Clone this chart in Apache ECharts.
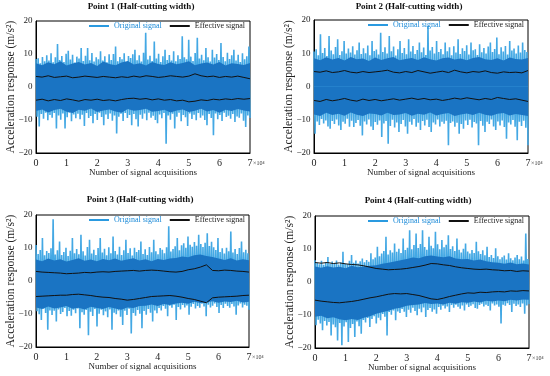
<!DOCTYPE html>
<html><head><meta charset="utf-8">
<script src="https://cdn.jsdelivr.net/npm/echarts@6/dist/echarts.min.js"></script>
<style>html,body{margin:0;padding:0;background:#fff}#c{width:550px;height:376px}</style>
</head><body><div id="c"></div>
<script>
// ---------- DATA ----------
const titles = ['Point 1 (Half-cutting width)','Point 2 (Half-cutting width)','Point 3 (Half-cutting width)','Point 4 (Half-cutting width)'];
const xTickLabels = ['0','1','2','3','4','5','6','7'];
const yTickLabels = ['−20','−10','0','10','20'];
const xMax = 70000;

// Original signal: upper / lower peaks per acquisition bin (100 bins over 0..7e4)
const p1Hi = [8.5,8.7,7.2,9.1,7.8,9.6,8.0,10.2,7.5,9.0, 13.0,8.2,9.4,7.6,10.1,11.0,8.3,9.8,7.4,9.2, 8.6,11.8,7.9,9.5,11.8,8.1,10.3,7.7,9.0,8.4, 10.8,8.0,9.3,7.5,9.9,8.2,10.0,12.3,7.8,9.1, 8.4,10.2,7.6,9.4,8.8,9.9,11.3,8.1,9.6,7.7, 10.4,16.4,8.3,9.5,7.9,13.8,8.6,10.1,7.6,9.3, 11.3,8.2,9.7,8.0,10.8,7.8,9.6,8.5,15.4,9.0, 8.4,14.3,9.2,7.9,10.3,14.9,8.6,9.8,8.1,11.8, 9.0,7.7,11.3,8.9,10.0,8.2,13.3,9.1,7.8,10.4, 8.5,9.6,11.3,8.0,9.8,7.6,10.2,8.4,9.3,12.3];
const p1Lo = [-9.0,-12.0,-8.2,-9.6,-7.8,-10.1,-8.5,-9.3,-7.9,-12.6, -8.6,-9.9,-8.0,-12.6,-9.2,-7.7,-10.4,-8.3,-9.5,-8.1, -9.8,-8.4,-11.8,-7.9,-9.4,-8.8,-11.0,-8.2,-10.0,-7.8, -9.1,-11.6,-8.3,-9.7,-8.0,-10.2,-8.6,-14.1,-9.0,-8.1, -10.3,-7.9,-9.4,-8.5,-11.6,-8.2,-9.8,-12.0,-8.4,-9.6, -8.0,-10.1,-7.8,-9.3,-8.7,-10.0,-11.0,-8.3,-9.5,-7.9, -17.2,-8.6,-9.9,-8.1,-12.6,-9.0,-7.8,-10.4,-8.5,-9.2, -11.8,-8.0,-9.7,-8.4,-10.1,-7.9,-9.3,-8.6,-10.0,-11.6, -8.2,-9.4,-14.6,-8.0,-9.8,-8.5,-10.3,-7.8,-9.1,-8.7, -9.6,-8.2,-10.6,-8.9,-9.3,-8.0,-10.2,-12.1,-8.6,-9.4];

const p2Hi = [10.5,11.2,9.4,15.7,10.1,11.6,9.2,15.2,10.8,9.7, 11.9,14.2,9.5,10.6,13.7,9.9,11.4,10.2,12.1,9.6, 10.9,13.2,9.8,11.5,10.0,12.3,9.4,13.7,10.7,11.1, 9.6,16.2,10.4,11.8,9.9,15.2,10.6,12.0,9.3,11.2, 13.7,10.1,11.6,9.7,14.2,10.5,12.2,9.8,11.0,13.2, 10.3,11.7,9.5,18.3,10.8,11.9,9.9,13.7,10.4,11.3, 9.7,13.2,10.6,11.8,9.4,12.1,10.2,14.2,9.8,11.5, 10.7,12.4,9.6,13.2,10.9,11.2,9.5,12.7,10.3,11.6, 9.9,12.0,13.2,10.4,11.3,14.7,9.7,11.8,10.5,12.2, 9.6,13.7,10.8,11.4,9.9,12.3,10.2,13.2,11.0,10.4];
const p2Lo = [-14.2,-10.5,-11.6,-9.8,-11.1,-10.2,-12.0,-12.7,-10.4,-11.3, -9.9,-11.7,-13.1,-10.6,-11.2,-9.7,-12.1,-10.3,-12.2,-11.0, -10.1,-11.8,-14.7,-10.5,-11.4,-9.9,-12.0,-13.1,-10.7,-11.5, -10.2,-15.2,-11.1,-10.4,-17.2,-11.9,-10.0,-12.3,-10.8,-13.7, -11.3,-10.1,-12.0,-14.2,-10.6,-11.5,-9.8,-12.1,-10.9,-13.1, -10.4,-11.7,-10.0,-12.2,-13.7,-10.8,-11.4,-9.9,-12.0,-10.6, -11.2,-10.3,-17.7,-11.0,-10.5,-12.1,-10.9,-14.2,-11.3,-12.7, -10.2,-11.6,-10.0,-12.3,-10.7,-11.1,-17.7,-10.4,-11.8,-13.7, -10.6,-11.3,-9.9,-12.0,-13.1,-10.5,-11.7,-10.2,-12.2,-15.7, -10.8,-11.4,-10.1,-12.1,-16.2,-10.6,-11.9,-10.3,-12.4,-17.7];

const p3Hi = [10.9,8.2,9.4,13.0,7.8,9.1,8.5,9.9,18.7,8.0, 9.3,12.0,7.9,8.8,10.1,7.6,9.2,13.0,8.4,9.7, 8.1,14.0,9.0,7.7,10.3,12.5,8.3,9.5,7.9,10.0, 13.0,8.6,9.8,7.8,10.2,8.4,13.5,9.1,8.0,10.4, 7.9,9.3,12.5,8.5,9.9,7.7,10.1,8.8,9.4,12.0, 8.2,9.6,7.9,10.3,8.7,12.5,9.0,8.1,10.0,9.5, 8.4,10.2,16.6,8.9,9.7,10.5,13.0,9.3,10.8,11.4, 10.1,13.5,11.0,10.4,11.8,10.7,14.0,11.2,10.3,11.6, 14.5,10.6,11.9,10.2,9.4,13.0,8.8,9.9,8.3,10.1, 9.0,15.0,8.6,9.7,8.2,10.0,12.0,8.7,9.5,8.4];
const p3Lo = [-9.2,-10.1,-11.8,-8.4,-9.7,-14.8,-8.9,-10.3,-9.0,-12.3, -8.6,-10.0,-9.4,-8.2,-10.7,-9.1,-10.5,-8.7,-9.8,-8.3, -14.3,-9.5,-10.2,-8.8,-16.4,-9.3,-10.6,-8.5,-13.8,-9.9, -8.7,-10.4,-9.2,-11.0,-8.6,-14.8,-9.6,-10.1,-8.9,-10.8, -13.3,-9.0,-10.3,-8.4,-15.9,-9.7,-10.5,-8.8,-9.9,-14.3, -9.1,-10.2,-8.5,-9.6,-12.3,-8.9,-9.8,-8.2,-8.9,-7.6, -8.4,-10.7,-7.5,-8.1,-7.2,-11.8,-7.9,-8.6,-7.3,-8.0, -7.4,-10.2,-7.8,-7.0,-8.3,-7.6,-8.1,-6.9,-7.7,-10.7, -7.2,-8.0,-7.5,-6.8,-7.9,-9.7,-7.3,-8.2,-6.9,-7.6, -8.1,-7.0,-7.7,-10.2,-7.4,-6.8,-8.0,-7.2,-7.5,-8.7];

const p4Hi = [6.6,5.8,5.4,6.4,5.2,6.0,7.6,5.5,6.2,5.6, 6.5,5.3,5.9,9.2,5.7,5.4,6.4,8.2,5.8,6.5, 5.6,6.3,7.1,6.0,6.7,6.1,8.7,6.9,7.4,10.7, 7.8,8.6,9.4,13.7,8.3,9.6,8.9,11.7,9.2,10.1, 8.8,13.2,9.7,10.4,15.7,9.9,11.2,14.7,10.3,11.5, 15.7,10.6,9.8,13.7,11.0,10.2,15.2,11.4,9.9,12.7, 10.5,11.3,14.2,10.0,10.8,9.4,13.2,9.8,8.9,10.1, 11.7,9.2,8.6,9.7,8.8,12.2,9.3,8.5,9.6,8.1, 10.7,7.6,8.2,7.3,10.2,7.8,6.9,7.5,8.0,6.8, 8.7,7.2,6.6,7.4,8.2,6.9,7.7,6.5,14.7,7.0];
const p4Lo = [-13.1,-11.4,-12.6,-14.6,-11.8,-13.2,-12.1,-16.2,-12.9,-13.7, -17.7,-12.4,-19.2,-13.5,-12.2,-18.2,-13.9,-12.7,-16.7,-12.0, -13.4,-15.7,-11.5,-12.3,-10.9,-13.6,-11.2,-10.4,-12.6,-10.8, -11.6,-9.7,-10.5,-16.2,-9.1,-9.9,-8.6,-11.6,-8.9,-9.4, -8.2,-9.0,-10.6,-8.4,-9.3,-7.8,-8.8,-10.1,-8.1,-9.2, -7.7,-10.6,-8.5,-7.9,-9.0,-8.3,-9.6,-7.6,-8.4,-7.2, -8.0,-7.4,-9.1,-7.0,-7.8,-6.9,-7.5,-8.1,-7.1,-8.6, -6.8,-7.6,-7.2,-6.7,-7.9,-8.1,-7.0,-6.6,-7.4,-6.9, -7.3,-8.6,-6.5,-7.1,-6.8,-7.5,-12.6,-6.9,-7.2,-6.4, -7.0,-9.1,-6.6,-7.3,-6.8,-7.6,-6.5,-9.6,-7.1,-6.7];

// dense core of the original signal (every 0.2e4)
const p1CoreHi = [7.2,6.6,7.5,6.9,7.8,6.5,7.1,7.6,6.8,7.3,6.4,7.7,7.0,6.6,7.4,7.9,6.8,7.2,6.5,7.6,7.0,6.7,7.5,6.9,7.3,7.8,6.6,7.1,7.4,6.8,7.6,6.5,7.2,7.0,6.7,7.3];
const p1CoreLo = [-7.3,-6.8,-7.7,-7.0,-6.6,-7.5,-7.9,-6.9,-7.2,-6.5,-7.6,-7.1,-6.8,-7.4,-7.8,-6.7,-7.2,-7.0,-6.6,-7.5,-7.3,-6.9,-7.7,-7.1,-6.8,-7.6,-7.2,-6.6,-7.4,-7.0,-7.8,-6.9,-7.3,-6.7,-7.1,-7.4];
const p2CoreHi = [8.5,7.9,8.8,8.1,8.6,7.8,8.9,8.2,8.4,7.7,8.7,8.0,8.5,8.9,7.9,8.3,8.6,8.0,8.8,8.2,7.8,8.5,8.7,8.1,8.4,7.9,8.6,8.9,8.2,8.0,8.5,7.8,8.7,8.3,8.1,8.6];
const p2CoreLo = [-8.4,-8.9,-7.9,-8.6,-8.2,-8.8,-7.8,-8.5,-8.9,-8.1,-8.3,-8.7,-7.9,-8.6,-8.4,-8.0,-8.8,-8.2,-8.5,-7.8,-8.7,-8.3,-8.0,-8.9,-8.4,-8.1,-8.6,-7.9,-8.5,-8.8,-8.2,-8.0,-8.7,-8.3,-8.6,-8.9];
const p3CoreHi = [6.5,6.0,6.8,6.2,6.6,5.9,6.4,6.9,6.1,6.5,6.0,6.7,6.3,6.8,6.1,6.5,6.9,6.2,6.6,6.0,6.7,6.4,6.8,7.0,7.4,7.2,7.8,8.0,7.6,7.3,6.8,6.4,6.9,6.2,6.6,6.3];
const p3CoreLo = [-8.0,-8.5,-7.7,-8.3,-8.0,-7.6,-8.4,-8.1,-8.6,-7.8,-8.2,-8.5,-7.9,-8.3,-8.7,-8.0,-8.2,-7.6,-7.5,-7.1,-7.6,-7.0,-7.3,-6.8,-6.6,-6.9,-6.3,-6.7,-6.5,-6.1,-6.6,-6.2,-6.4,-6.0,-6.5,-6.3];
const p4CoreHi = [4.7,4.3,4.8,4.4,4.6,4.2,4.9,4.5,4.7,4.9,5.1,5.5,5.8,6.2,6.6,7.0,7.4,7.2,7.8,8.0,7.7,7.5,7.8,7.1,6.9,7.0,6.5,6.8,6.3,6.0,5.8,5.5,5.9,5.4,5.6,5.3];
const p4CoreLo = [-10.5,-10.2,-11.0,-10.7,-11.3,-11.6,-11.2,-11.5,-10.8,-10.4,-9.6,-9.2,-8.7,-8.1,-7.8,-7.2,-7.0,-6.8,-6.4,-6.7,-6.5,-6.8,-6.3,-6.6,-6.1,-6.3,-5.9,-6.2,-5.7,-5.9,-5.6,-5.8,-5.4,-5.6,-5.3,-5.4];

// Effective signal: upper / lower envelopes (every 0.2e4)
const p1EnvUp = [3.2,3.0,3.4,2.9,3.1,3.3,2.8,3.0,3.3,3.1,2.9,3.2,3.0,2.8,3.1,2.9,3.3,3.0,3.4,3.2,2.9,3.1,3.4,3.2,3.0,3.3,4.0,3.4,3.1,3.3,2.9,3.2,3.0,3.3,2.9,2.5];
const p1EnvLo = [-4.0,-3.7,-4.2,-3.8,-4.1,-3.6,-3.9,-4.3,-3.8,-4.0,-3.7,-4.1,-3.9,-4.2,-3.8,-3.5,-3.4,-3.7,-3.5,-3.9,-3.6,-4.0,-3.8,-4.2,-4.0,-4.5,-4.3,-3.9,-4.1,-3.7,-3.9,-3.6,-3.8,-3.5,-3.7,-3.5];
const p2EnvUp = [4.5,4.3,4.7,4.2,4.4,4.8,4.3,4.1,4.5,4.2,4.4,4.6,4.9,4.3,4.1,4.5,4.2,4.8,4.4,4.0,4.3,4.6,4.2,4.9,4.4,4.1,4.5,4.3,4.7,4.2,4.0,4.4,4.2,4.3,4.1,4.8];
const p2EnvLo = [-4.2,-4.5,-3.9,-4.3,-4.0,-3.6,-4.1,-4.4,-3.8,-4.2,-3.9,-4.3,-4.0,-3.7,-4.1,-3.8,-3.5,-3.9,-3.6,-4.0,-3.8,-4.2,-3.9,-3.5,-3.8,-3.4,-3.7,-4.0,-3.6,-3.9,-3.3,-3.6,-3.9,-3.7,-4.1,-4.5];
const p3EnvUp = [2.9,2.7,2.6,2.5,2.4,2.2,2.3,2.4,2.6,2.5,2.7,2.8,2.7,2.9,3.0,3.1,3.2,3.0,3.2,3.3,3.2,3.0,2.8,2.7,2.9,3.4,3.7,4.2,4.9,3.2,3.1,3.3,3.2,3.0,2.9,2.7];
const p3EnvLo = [-4.7,-4.6,-4.5,-4.4,-4.3,-4.3,-4.1,-4.0,-4.2,-4.4,-4.7,-4.9,-5.0,-5.3,-5.5,-5.8,-5.6,-5.3,-5.0,-4.7,-4.6,-4.5,-4.4,-4.6,-4.9,-5.3,-5.6,-6.1,-6.6,-5.1,-4.9,-4.8,-4.7,-4.6,-4.4,-4.3];
const p4EnvUp = [5.9,5.7,5.9,5.6,5.8,5.5,5.3,5.2,4.9,4.5,4.1,3.9,3.7,3.8,3.9,4.1,4.4,4.7,5.1,5.6,5.5,5.2,5.0,4.6,4.3,4.1,3.9,3.8,3.9,3.7,3.6,3.4,3.5,3.2,3.4,3.3];
const p4EnvLo = [-5.5,-5.8,-6.0,-6.2,-6.3,-6.1,-5.9,-5.6,-5.2,-4.8,-4.5,-4.1,-3.7,-3.5,-3.6,-3.5,-3.8,-4.1,-4.6,-5.1,-5.3,-4.9,-4.4,-4.0,-3.6,-3.3,-3.4,-3.1,-3.2,-3.0,-2.9,-3.0,-2.7,-2.8,-2.6,-2.7];

// ---------- BUILD ----------
const FONT = '"Liberation Serif","Times New Roman",serif';
const BLUE_SPIKE = '#43a8e4', BLUE_CORE = '#1a74c3', BLACK = '#111';
const plots = [
  {hi:p1Hi, lo:p1Lo, cHi:p1CoreHi, cLo:p1CoreLo, eUp:p1EnvUp, eLo:p1EnvLo, grid:{left:36,top:21,width:214,height:132}, leg:{left:89,top:22}, title:[141,7]},
  {hi:p2Hi, lo:p2Lo, cHi:p2CoreHi, cLo:p2CoreLo, eUp:p2EnvUp, eLo:p2EnvLo, grid:{left:314,top:20,width:214,height:133}, leg:{left:368,top:21}, title:[409,7]},
  {hi:p3Hi, lo:p3Lo, cHi:p3CoreHi, cLo:p3CoreLo, eUp:p3EnvUp, eLo:p3EnvLo, grid:{left:36,top:215,width:213,height:132}, leg:{left:89,top:216}, title:[140,200]},
  {hi:p4Hi, lo:p4Lo, cHi:p4CoreHi, cLo:p4CoreLo, eUp:p4EnvUp, eLo:p4EnvLo, grid:{left:315,top:216,width:214,height:132}, leg:{left:368,top:217}, title:[418,201]}
];
function zigzag(hi, lo){
  const n = hi.length*2, out=[];
  for(let i=0;i<hi.length;i++){
    out.push([(2*i)*xMax/(n-1), hi[i]]);
    out.push([(2*i+1)*xMax/(n-1), lo[i]]);
  }
  return out;
}
function spread(arr){ return arr.map((v,k)=>[k*xMax/(arr.length-1), v]); }

const grids=[], xAxes=[], yAxes=[], series=[], legends=[], graphics=[];
plots.forEach((p,gi)=>{
  grids.push(Object.assign({show:true, borderColor:'#000', borderWidth:1, backgroundColor:'transparent'}, p.grid));
  xAxes.push({type:'value', gridIndex:gi, min:0, max:xMax, interval:10000,
    name:'Number of signal acquisitions', nameLocation:'middle', nameGap:15, nameMoveOverlap:false,
    nameTextStyle:{fontFamily:FONT, fontSize:9, color:'#222'},
    axisLine:{show:true, onZero:false, lineStyle:{color:'#000', width:1}},
    axisTick:{show:false}, splitLine:{show:false},
    axisLabel:{fontFamily:FONT, fontSize:10, color:'#222', margin:5,
      formatter:(v)=>xTickLabels[Math.round(v/10000)]}});
  yAxes.push({type:'value', gridIndex:gi, min:-20, max:20, interval:10,
    name:'Acceleration response (m/s²)', nameLocation:'middle', nameGap:19, nameMoveOverlap:false,
    nameTextStyle:{fontFamily:FONT, fontSize:11.5, color:'#222'},
    axisLine:{show:true, onZero:false, lineStyle:{color:'#000', width:1}},
    axisTick:{show:false}, splitLine:{show:false},
    axisLabel:{fontFamily:FONT, fontSize:9, color:'#222', margin:3.5,
      formatter:(v)=>yTickLabels[Math.round((v+20)/10)]}});
  series.push({name:'Original signal', type:'line', xAxisIndex:gi, yAxisIndex:gi, data:zigzag(p.hi,p.lo),
    symbol:'none', lineStyle:{color:BLUE_SPIKE, width:1.6}, itemStyle:{color:BLUE_SPIKE}, animation:false, z:2});
  series.push({name:'core'+gi+'a', type:'line', xAxisIndex:gi, yAxisIndex:gi, data:spread(p.cHi),
    symbol:'none', lineStyle:{width:0}, areaStyle:{color:BLUE_CORE, opacity:1, origin:0}, animation:false, z:3});
  series.push({name:'core'+gi+'b', type:'line', xAxisIndex:gi, yAxisIndex:gi, data:spread(p.cLo),
    symbol:'none', lineStyle:{width:0}, areaStyle:{color:BLUE_CORE, opacity:1, origin:0}, animation:false, z:3});
  series.push({name:'Effective signal', type:'line', xAxisIndex:gi, yAxisIndex:gi, data:spread(p.eUp),
    symbol:'none', lineStyle:{color:BLACK, width:1}, itemStyle:{color:BLACK}, animation:false, z:4});
  series.push({name:'Effective signal', type:'line', xAxisIndex:gi, yAxisIndex:gi, data:spread(p.eLo),
    symbol:'none', lineStyle:{color:BLACK, width:1}, itemStyle:{color:BLACK}, animation:false, z:4});
  legends.push({left:p.leg.left, top:p.leg.top, padding:0, itemGap:8, itemWidth:20, itemHeight:2, icon:'rect',
    selectedMode:false, textStyle:{fontFamily:FONT, fontSize:8, color:'#222'},
    data:[{name:'Original signal', itemStyle:{color:'#2a9ae0'}, textStyle:{color:'#1d8bd8'}},
          {name:'Effective signal', itemStyle:{color:BLACK}, textStyle:{color:'#222'}}]});
  graphics.push({type:'text', x:p.title[0], y:p.title[1], style:{text:titles[gi], textAlign:'center', textVerticalAlign:'middle',
    font:'bold 9px '+FONT, fill:'#111'}});
  const gx = p.grid.left + p.grid.width + 3, gy = p.grid.top + p.grid.height + 10;
  graphics.push({type:'text', x:gx, y:gy, style:{text:'×10⁴', textVerticalAlign:'middle', font:'6px '+FONT, fill:'#333'}});
});

const chart = echarts.init(document.getElementById('c'), null, {renderer:'canvas'});
chart.setOption({animation:false, backgroundColor:'#fff', grid:grids, xAxis:xAxes, yAxis:yAxes, series:series, legend:legends, graphic:graphics});
</script></body></html>
